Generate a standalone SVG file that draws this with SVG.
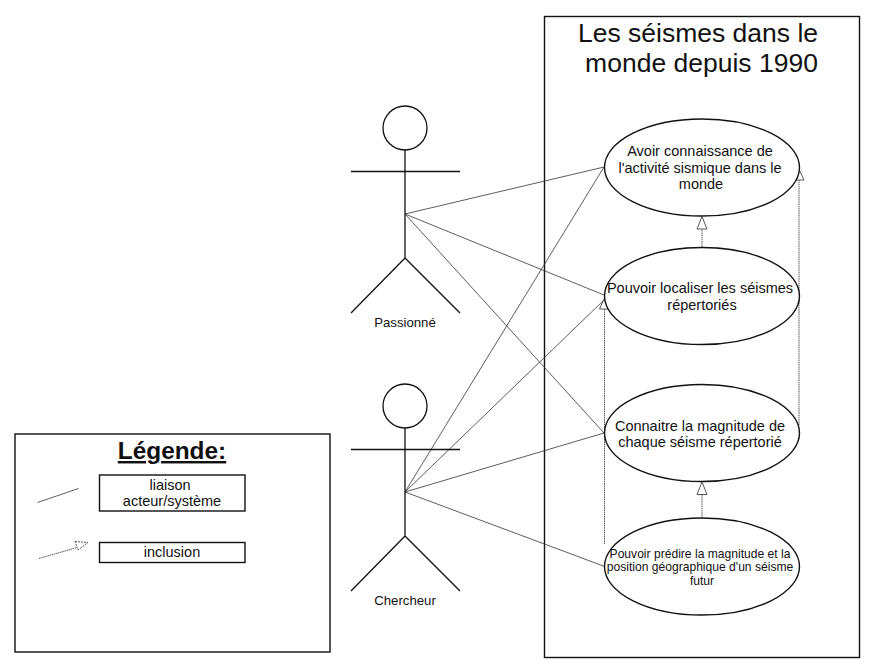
<svg xmlns="http://www.w3.org/2000/svg" width="896" height="668" viewBox="0 0 896 668">
<style>
text{font-family:"Liberation Sans",Arial,sans-serif;fill:#111;text-anchor:middle}
.box{fill:#fff;stroke:#111;stroke-width:1.4}
.uc{fill:#fff;stroke:#111;stroke-width:1.4}
.act{fill:none;stroke:#111;stroke-width:1.3}
.lnk{fill:none;stroke:#333;stroke-width:.8}
.dash{fill:none;stroke:#555;stroke-width:1;stroke-dasharray:1.5 .7}
.head{fill:#fff;stroke:#444;stroke-width:.9}
.t14{font-size:14.5px}.t13{font-size:14.5px}.t11{font-size:12.1px}
</style>
<g id="legende">
<rect class="box" x="15" y="434" width="315" height="218"/>
<text x="172" y="459" font-size="24.400" font-weight="bold" text-decoration="underline">Légende:</text>
<rect class="box" x="99.500" y="475" width="145.500" height="36"/>
<text x="170" y="490" class="t13">liaison</text>
<text x="172" y="506" class="t13">acteur/système</text>
<rect class="box" x="99.500" y="542.500" width="145.500" height="20"/>
<text x="172" y="557" class="t13">inclusion</text>
<line class="lnk" x1="37.500" y1="502.500" x2="78.500" y2="488.500"/>
<line class="dash" x1="39" y1="558.500" x2="77" y2="547.500"/>
<path class="head" d="M75 541.500L88 542.500L78 550Z" stroke-dasharray="2 1"/>
</g>
<g id="systeme">
<rect class="box" x="544.500" y="16.500" width="315" height="641"/>
<text x="698" y="42" font-size="26.500">Les séismes dans le</text>
<text x="701.500" y="71.500" font-size="26.500">monde depuis 1990</text>
</g>
<g id="connectors">
<path class="lnk" d="M405 214L604 167M405 214L604 295M405 214L604 433M405 492L604 167M405 492L604 300M405 492L604 433M405 492L606 567"/>
<path class="dash" d="M702 247V226M702 518V492M604.500 544V309M799 425V178"/>
<path class="head" d="M702 216.500L707 229H697Z"/>
<path class="head" d="M702 482L707 494.500H697Z"/>
<path class="head" d="M604.500 298L609.500 309H599.500Z"/>
<path class="head" d="M799 169L804 180H794Z"/>
</g>
<g id="passionne">
<circle class="act" cx="405" cy="128" r="22"/>
<path class="act" d="M405 150V258M351 171.500H460M405 258L351 313M405 258L460 313"/>
<text x="405" y="327" font-size="13.200">Passionné</text>
</g>
<g id="chercheur">
<circle class="act" cx="405" cy="406" r="22"/>
<path class="act" d="M405 428V536M351 449.500H460M405 536L351 591M405 536L460 591"/>
<text x="405" y="605" font-size="13.200">Chercheur</text>
</g>
<g id="uc1">
<ellipse class="uc" cx="702" cy="167.500" rx="97.500" ry="48.500"/>
<text x="700" y="156" class="t14">Avoir connaissance de</text>
<text x="700" y="173" class="t14">l'activité sismique dans le</text>
<text x="701" y="189" class="t14">monde</text>
</g>
<g id="uc2">
<ellipse class="uc" cx="702" cy="296" rx="97.500" ry="48.500"/>
<text x="700" y="293" class="t14">Pouvoir localiser les séismes</text>
<text x="702" y="310" class="t14">répertoriés</text>
</g>
<g id="uc3">
<ellipse class="uc" cx="702" cy="433" rx="97.500" ry="48.500"/>
<text x="700" y="431" class="t14">Connaitre la magnitude de</text>
<text x="700" y="447" class="t14">chaque séisme répertorié</text>
</g>
<g id="uc4">
<ellipse class="uc" cx="702" cy="566.500" rx="97.500" ry="48.500"/>
<text x="700" y="558" class="t11">Pouvoir prédire la magnitude et la</text>
<text x="700" y="571" class="t11">position géographique d'un séisme</text>
<text x="702" y="585" class="t11">futur</text>
</g>
</svg>
